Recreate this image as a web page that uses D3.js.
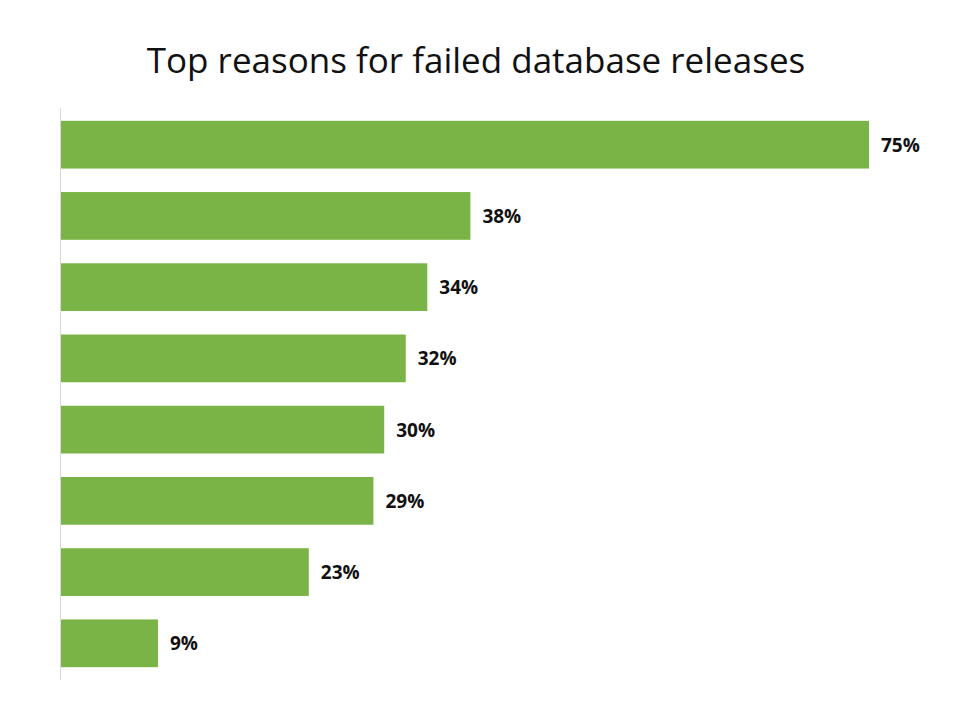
<!DOCTYPE html>
<html>
<head>
<meta charset="utf-8">
<script src="https://cdn.jsdelivr.net/npm/d3@7"></script>
<style>
  body { margin: 0; background: white; }
  text { font-family: "Open Sans", "Liberation Sans", sans-serif; }
</style>
</head>
<body>
<svg id="chart" width="960" height="720"></svg>
<script>
let reasons = ["r1", "r2", "r3", "r4", "r5", "r6", "r7", "r8"];
let percents = [75, 38, 34, 32, 30, 29, 23, 9];

let svg = d3.select("#chart");
let plotLeft = 61, plotTop = 108, plotBottom = 680;

let x = d3.scaleLinear().domain([0, 75]).range([plotLeft, 869]);
let y = d3.scaleBand().domain(reasons).range([plotTop, plotBottom]).paddingInner(0.33).paddingOuter(0.18);

svg.append("text")
    .attr("x", 476)
    .attr("y", 73)
    .attr("text-anchor", "middle")
    .attr("font-size", 35)
    .attr("fill", "#111")
    .text("Top reasons for failed database releases");

// bars
svg.selectAll("rect")
    .data(percents)
    .enter().append("rect")
    .attr("x", x(0))
    .attr("y", (d, i) => y(reasons[i]))
    .attr("width", d => x(d) - x(0))
    .attr("height", y.bandwidth())
    .attr("fill", "#7AB446");

svg.selectAll(".lbl")
    .data(percents)
    .enter().append("text")
    .attr("class", "lbl")
    .attr("x", d => x(d) + 12)
    .attr("y", (d, i) => y(reasons[i]) + y.bandwidth() / 2 + 7)
    .attr("font-size", 19)
    .attr("font-weight", "bold")
    .attr("fill", "#111")
    .text(d => d + "%");

// left axis line
svg.append("line")
    .attr("x1", 60.5).attr("x2", 60.5)
    .attr("y1", plotTop).attr("y2", plotBottom)
    .attr("stroke", "#d9d9d9")
    .attr("stroke-width", 1);
</script>
</body>
</html>
